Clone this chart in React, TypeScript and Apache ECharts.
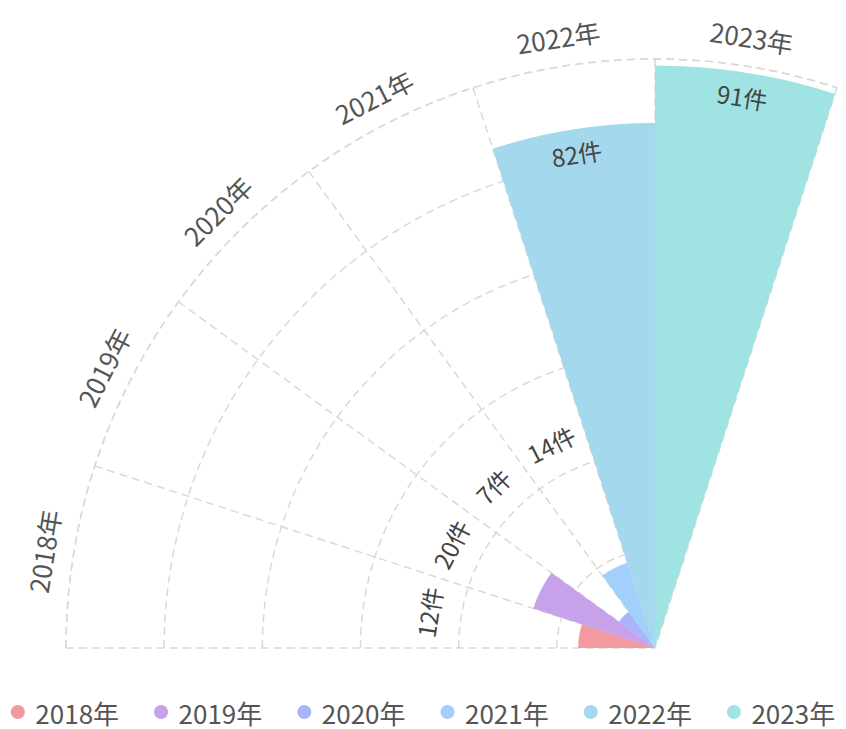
import React, { useEffect, useRef } from 'react';
import * as echarts from 'echarts';

const categories = ['2018年', '2019年', '2020年', '2021年', '2022年', '2023年'];
const values = [12, 20, 7, 14, 82, 91];
const colors = ['#F29A9E', '#C7A2EA', '#A8B5FA', '#A2D0FA', '#A4D8EC', '#9FE3E3'];
const valueUnit = '件';

const RADIUS_MAX = 92;
const SPLIT_COUNT = 6;
const POLAR_RADIUS = 589;
const SMALL_LABEL_R = 217;
const BIG_THRESHOLD = 50;
const FONT = '"Noto Sans CJK SC", "Microsoft YaHei", sans-serif';

export default function App() {
  const ref = useRef<HTMLDivElement>(null);
  useEffect(() => {
    document.body.style.margin = '0';
    const chart = echarts.init(ref.current!, null, { renderer: 'svg' });
    const pxPerUnit = POLAR_RADIUS / RADIUS_MAX;
    const dash = { color: '#d9d9d9', type: [8, 5] as any, width: 1.5 };

    const series: any[] = categories.map((name, k) => ({
      type: 'bar',
      coordinateSystem: 'polar',
      name,
      stack: 'total',
      barCategoryGap: '0%',
      barGap: '-100%',
      itemStyle: { color: colors[k] },
      label: {
        show: true,
        formatter: '{c}' + valueUnit,
        fontSize: 24,
        color: '#444',
        fontFamily: FONT,
      },
      data: categories.map((_, i) => {
        if (i !== k) return '-';
        const v = values[k];
        const big = v >= BIG_THRESHOLD;
        return {
          value: v,
          label: big
            ? { position: 'insideEnd', distance: 12 }
            : { position: 'end', distance: SMALL_LABEL_R - v * pxPerUnit },
        };
      }),
    }));

    series.push({
      type: 'bar',
      coordinateSystem: 'polar',
      name: 'axisLabels',
      stack: 'labels',
      barCategoryGap: '0%',
      barGap: '-100%',
      silent: true,
      itemStyle: { color: 'rgba(0,0,0,0)' },
      label: {
        show: true,
        position: 'end',
        distance: 17,
        formatter: (p: any) => p.name,
        fontSize: 26,
        color: '#555',
        fontFamily: FONT,
      },
      data: categories.map(() => RADIUS_MAX),
    });

    chart.setOption({
      animation: false,
      polar: { center: [655, 648], radius: POLAR_RADIUS },
      angleAxis: {
        type: 'category',
        data: categories,
        startAngle: 180,
        endAngle: 72,
        clockwise: true,
        boundaryGap: true,
        axisLine: { show: true, lineStyle: dash },
        axisTick: { show: false },
        axisLabel: { show: false },
        splitLine: { show: true, lineStyle: dash },
      },
      radiusAxis: {
        type: 'value',
        min: 0,
        max: RADIUS_MAX,
        interval: RADIUS_MAX / SPLIT_COUNT,
        axisLine: { show: false },
        axisTick: { show: false },
        axisLabel: { show: false },
        splitLine: { show: true, lineStyle: dash },
      },
      legend: {
        data: categories,
        top: 694,
        left: 'center',
        padding: 5,
        icon: 'circle',
        itemWidth: 25,
        itemHeight: 14,
        itemGap: 35,
        textStyle: { fontSize: 26, lineHeight: 26, color: '#555', fontFamily: FONT },
      },
      series,
    });
    return () => chart.dispose();
  }, []);
  return <div ref={ref} style={{ width: 846, height: 729 }} />;
}
